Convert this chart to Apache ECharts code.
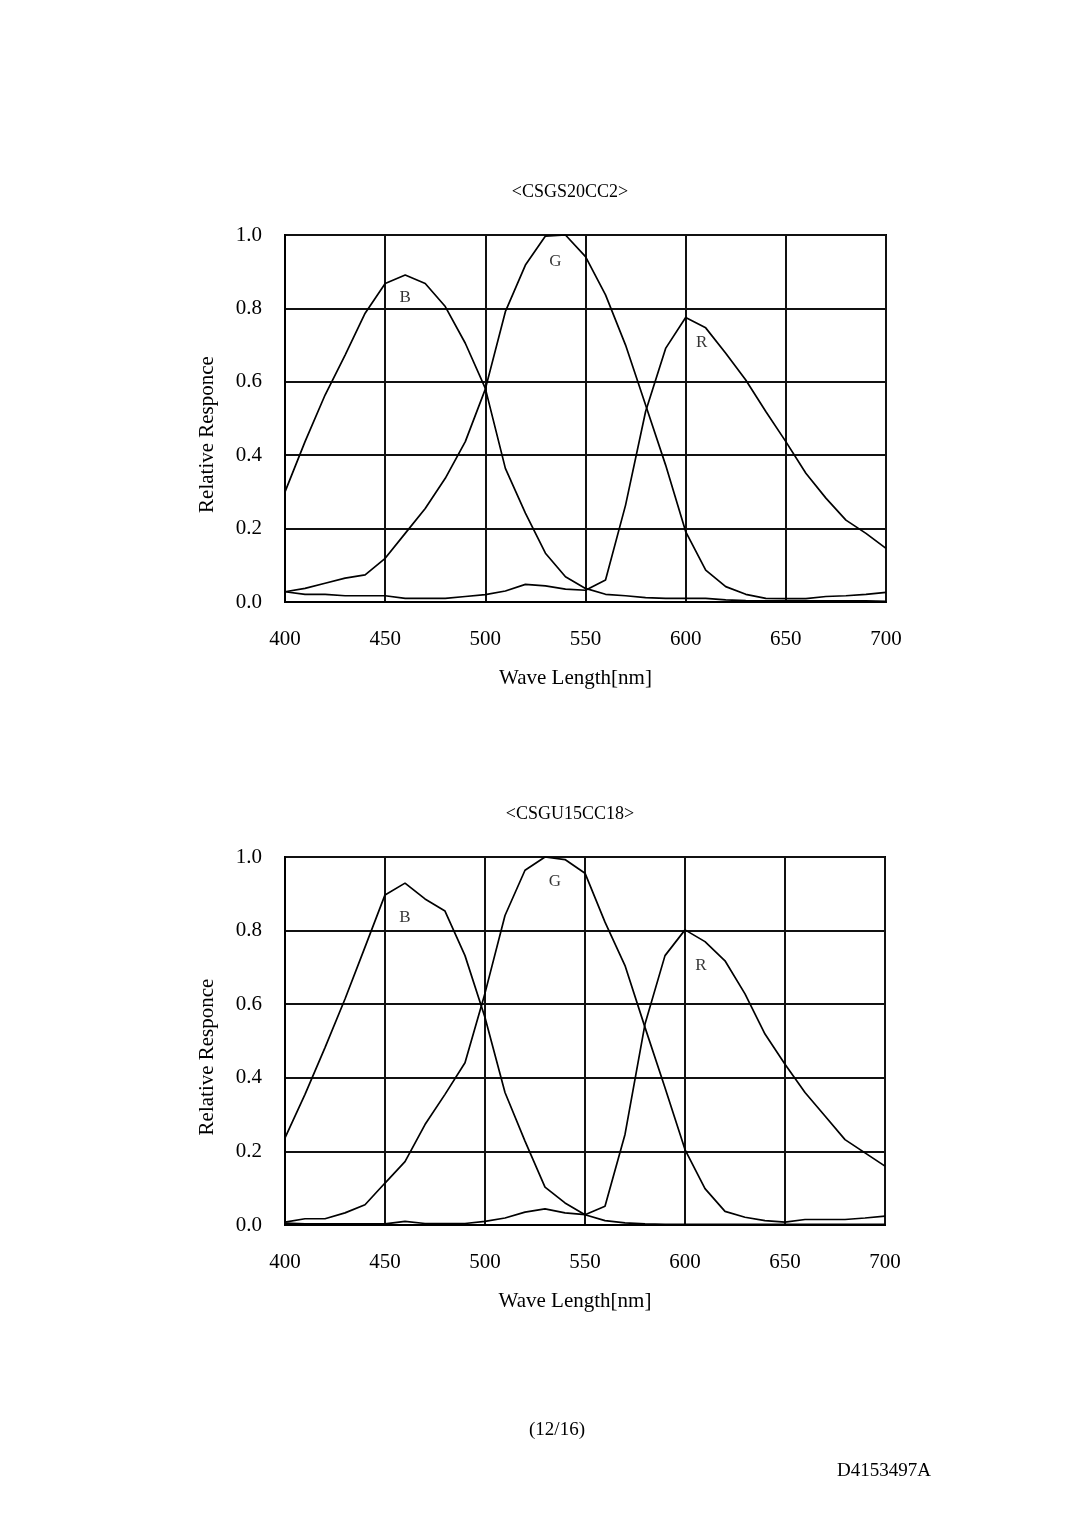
<!DOCTYPE html>
<html>
<head>
<meta charset="utf-8">
<script src="https://cdn.jsdelivr.net/npm/echarts@6/dist/echarts.min.js"></script>
<style>
html,body{margin:0;padding:0;background:#fff;}
#c{width:1080px;height:1528px;}
</style>
</head>
<body>
<div id="c"></div>
<script>
const wavelengths = [400,410,420,430,440,450,460,470,480,490,500,510,520,530,540,550,560,570,580,590,600,610,620,630,640,650,660,670,680,690,700];

const xTicks = [400,450,500,550,600,650,700];
const yTicks = [0.0,0.2,0.4,0.6,0.8,1.0];

// CSGS20CC2
const b1 = [0.30,0.437,0.564,0.673,0.787,0.868,0.891,0.868,0.805,0.705,0.582,0.364,0.242,0.133,0.069,0.037,0.021,0.017,0.012,0.010,0.010,0.010,0.006,0.004,0.003,0.003,0.003,0.003,0.003,0.003,0.002];
const g1 = [0.028,0.037,0.051,0.065,0.074,0.119,0.187,0.255,0.337,0.437,0.580,0.791,0.918,0.997,1.000,0.941,0.837,0.700,0.537,0.373,0.192,0.087,0.042,0.021,0.010,0.009,0.009,0.015,0.017,0.021,0.026];
const r1 = [0.028,0.021,0.021,0.017,0.017,0.017,0.010,0.010,0.010,0.015,0.020,0.030,0.048,0.044,0.035,0.032,0.060,0.264,0.519,0.691,0.775,0.747,0.678,0.605,0.519,0.437,0.351,0.283,0.223,0.187,0.146];

// CSGU15CC18
const b2 = [0.237,0.355,0.482,0.614,0.755,0.897,0.929,0.886,0.853,0.732,0.564,0.360,0.228,0.103,0.060,0.028,0.012,0.006,0.003,0.002,0.002,0.002,0.002,0.002,0.002,0.002,0.002,0.002,0.002,0.002,0.002];
const g2 = [0.008,0.017,0.017,0.033,0.055,0.114,0.172,0.273,0.355,0.441,0.630,0.841,0.964,1.000,0.993,0.956,0.823,0.705,0.537,0.373,0.205,0.099,0.037,0.021,0.012,0.008,0.015,0.015,0.015,0.019,0.024];
const r2 = [0.005,0.003,0.003,0.003,0.003,0.003,0.010,0.004,0.004,0.004,0.010,0.019,0.035,0.044,0.033,0.028,0.051,0.246,0.546,0.732,0.802,0.770,0.718,0.628,0.519,0.437,0.360,0.296,0.232,0.196,0.160];

// curve name labels: [name, wavelength, value]
const labels1 = [['B',460,0.83],['G',535,0.928],['R',608,0.706]];
const labels2 = [['B',460,0.835],['G',535,0.932],['R',608,0.706]];

const chartTitles = ['<CSGS20CC2>','<CSGU15CC18>'];
const xName = 'Wave Length[nm]';
const yName = 'Relative Responce';

const FONT = 'Liberation Serif';
const pair = arr => wavelengths.map((w,i)=>[w,arr[i]]);

function xAxis(gi){
  return {
    gridIndex: gi, type:'value', min:400, max:700, interval:50,
    axisLine:{show:true,lineStyle:{color:'#000',width:2}},
    axisTick:{show:false},
    splitLine:{show:true,lineStyle:{color:'#111',width:2}},
    axisLabel:{color:'#000',fontFamily:FONT,fontSize:21,margin:27},
    name:xName, nameLocation:'middle', nameGap:66,
    nameTextStyle:{color:'#000',fontFamily:FONT,fontSize:21,padding:[0,20,0,0]}
  };
}
function yAxis(gi){
  return {
    gridIndex: gi, type:'value', min:0, max:1, interval:0.2,
    axisLine:{show:true,lineStyle:{color:'#000',width:2}},
    axisTick:{show:false},
    splitLine:{show:true,lineStyle:{color:'#111',width:2}},
    axisLabel:{color:'#000',fontFamily:FONT,fontSize:21,margin:23,formatter:v=>v.toFixed(1)},
    name:yName, nameLocation:'middle', nameGap:67,
    nameTextStyle:{color:'#000',fontFamily:FONT,fontSize:21,padding:[0,32,0,0]}
  };
}
function lineSeries(gi,arr){
  return {type:'line', xAxisIndex:gi, yAxisIndex:gi, data:pair(arr), symbol:'none', smooth:false,
    lineStyle:{color:'#000',width:1.7}, animation:false, silent:true};
}
function labelSeries(gi,labs){
  return {type:'scatter', xAxisIndex:gi, yAxisIndex:gi, symbolSize:1, itemStyle:{color:'rgba(0,0,0,0)'},
    data: labs.map(l=>({name:l[0], value:[l[1],l[2]]})),
    label:{show:true, position:'inside', formatter:p=>p.name, color:'#000', fontFamily:FONT, fontSize:17},
    animation:false, silent:true};
}

const chart = echarts.init(document.getElementById('c'), null, {renderer:'canvas'});
chart.setOption({
  backgroundColor:'#fff',
  animation:false,
  title:[
    {text:chartTitles[0], left:565, top:178, textAlign:'center', textStyle:{color:'#000',fontFamily:FONT,fontSize:18,fontWeight:'normal'}},
    {text:chartTitles[1], left:565, top:800, textAlign:'center', textStyle:{color:'#000',fontFamily:FONT,fontSize:18,fontWeight:'normal'}},
    {text:'(12/16)', left:552, top:1416, textAlign:'center', textStyle:{color:'#000',fontFamily:FONT,fontSize:19,fontWeight:'normal'}},
    {text:'D4153497A', left:879, top:1457, textAlign:'center', textStyle:{color:'#000',fontFamily:FONT,fontSize:19,fontWeight:'normal'}}
  ],
  grid:[
    {left:285, top:235, width:601, height:367, show:true, borderColor:'#000', borderWidth:2, backgroundColor:'transparent'},
    {left:285, top:857, width:600, height:368, show:true, borderColor:'#000', borderWidth:2, backgroundColor:'transparent'}
  ],
  xAxis:[xAxis(0), xAxis(1)],
  yAxis:[yAxis(0), yAxis(1)],
  series:[
    lineSeries(0,b1), lineSeries(0,g1), lineSeries(0,r1), labelSeries(0,labels1),
    lineSeries(1,b2), lineSeries(1,g2), lineSeries(1,r2), labelSeries(1,labels2)
  ]
});
</script>
</body>
</html>
